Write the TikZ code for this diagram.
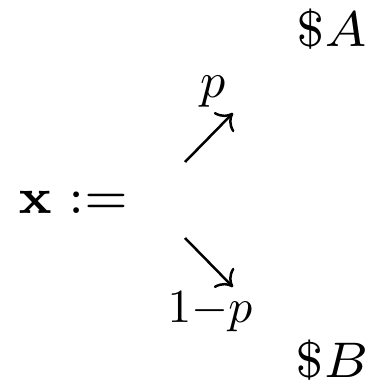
\documentclass[tikz,border=0pt]{standalone}
\usetikzlibrary{arrows.meta}
\usepackage{graphicx}
% seven-point design, enlarged
\newcommand{\mainmath}[1]{\scalebox{1.43}{\fontsize{7}{8}\selectfont$#1$}}
\newcommand{\probmath}[2][0.92]{\scalebox{#1}{$#2$}}
\begin{document}
\begin{tikzpicture}[
  x=1pt, y=1pt,
  lbl/.style={inner sep=0pt, anchor=base west},
  prob/.style={inner sep=0pt, anchor=base},
  branch/.style={-{To[length=2.8pt,width=5.6pt]}, line width=0.5pt}
]
\useasboundingbox (0,0) rectangle (74.2,78);
% left-hand side
\node[lbl] (lhs) at (3.4,35.4) {\mainmath{\mathbf{x} :=}};
% outcomes
\node[lbl] (outA) at (59.1,68.6) {\mainmath{\$A}};
\node[lbl] (outB) at (58.9,2.4) {\mainmath{\$B}};
% probabilities
\node[prob] (probA) at (42.6,58.4) {\probmath[1.0]{p}};
\node[prob] (probB) at (42,13.4) {\probmath[0.95]{1{-}p}};
% branches
\coordinate (upS) at (37,45.6);
\coordinate (upE) at (46.6,55.4);
\coordinate (dnS) at (37,30.4);
\coordinate (dnE) at (46.6,20.6);
\draw[branch] (upS) -- (upE);
\draw[branch] (dnS) -- (dnE);
\end{tikzpicture}
\end{document}
